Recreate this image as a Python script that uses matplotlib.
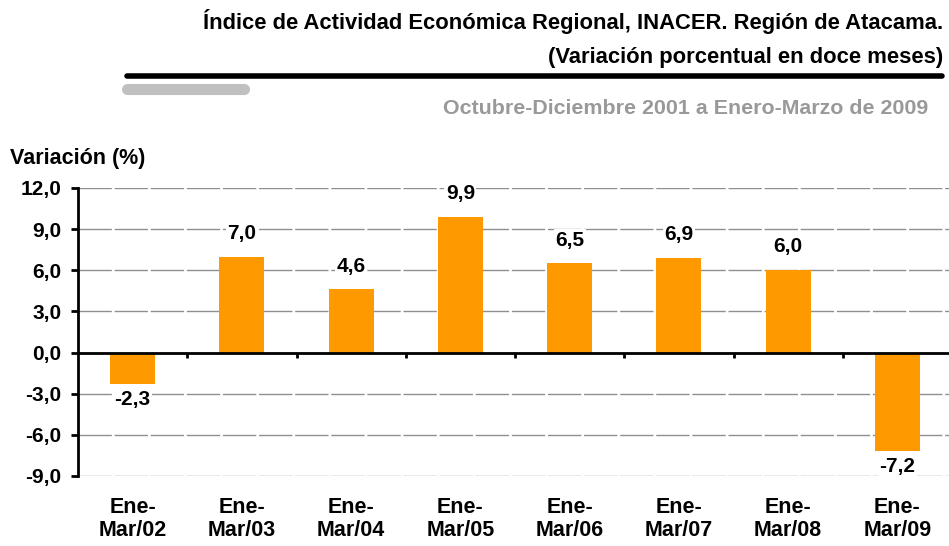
import matplotlib.pyplot as plt
from matplotlib.lines import Line2D
from matplotlib import font_manager

# Datos del gráfico
periodos = ["Ene-\nMar/02", "Ene-\nMar/03", "Ene-\nMar/04", "Ene-\nMar/05",
            "Ene-\nMar/06", "Ene-\nMar/07", "Ene-\nMar/08", "Ene-\nMar/09"]
variacion = [-2.3, 7.0, 4.6, 9.9, 6.5, 6.9, 6.0, -7.2]
ticks_y = [-9, -6, -3, 0, 3, 6, 9, 12]

titulo1 = "Índice de Actividad Económica Regional, INACER. Región de Atacama."
titulo2 = "(Variación porcentual en doce meses)"
subtitulo = "Octubre-Diciembre 2001 a Enero-Marzo de 2009"


def primera_fuente(candidatas):
    # Devuelve la primera familia instalada de la lista
    for fam in candidatas:
        try:
            font_manager.findfont(font_manager.FontProperties(family=fam),
                                  fallback_to_default=False)
            return [fam, 'DejaVu Sans']
        except Exception:
            continue
    return ['DejaVu Sans']


NARROW = primera_fuente(['Liberation Sans Narrow', 'Arial Narrow', 'Liberation Sans'])
SANS = primera_fuente(['Liberation Sans', 'Arial'])
NARANJA = '#FF9900'

fig = plt.figure(figsize=(9.49, 5.46), dpi=100)
W, H = 949, 546


def fx(px):
    return px / W


def fy(py):
    return 1 - py / H


# Encabezado
fig.text(fx(943), fy(21), titulo1, ha='right', va='center', fontsize=15.8,
         fontweight='bold', family=NARROW, color='black')
fig.text(fx(943), fy(58), titulo2, ha='right', va='center', fontsize=15.8,
         fontweight='bold', family=NARROW, color='black')
fig.add_artist(Line2D([fx(127), fx(942)], [fy(76), fy(76)], color='black',
                      lw=4, solid_capstyle='round', transform=fig.transFigure))
fig.add_artist(Line2D([fx(127), fx(244)], [fy(89), fy(89)], color='#C0C0C0',
                      lw=8, solid_capstyle='round', transform=fig.transFigure))
fig.text(fx(928), fy(108), subtitulo, ha='right', va='center', fontsize=15.4,
         fontweight='bold', family=NARROW, color='#999999')
fig.text(fx(10), fy(158), "Variación (%)", ha='left', va='center', fontsize=15.5,
         fontweight='bold', family=SANS)

# Ejes
ax = fig.add_axes([fx(78), fy(476), fx(952) - fx(78), fy(188) - fy(476)])
x = list(range(len(variacion)))
ax.set_axisbelow(True)
ax.bar(x, variacion, width=0.41, color=NARANJA, zorder=2)
ax.set_xlim(-0.5, len(variacion) - 0.5)
ax.set_ylim(-9, 12)
ax.set_yticks(ticks_y)
ax.set_yticklabels([f"{v:.1f}".replace('.', ',') for v in ticks_y],
                   fontsize=15, fontweight='bold', family=SANS)
ax.yaxis.grid(True, color='#8F8F8F', lw=1, linestyle=(0, (24, 2)))
ax.tick_params(axis='y', length=5, width=2, pad=7)

for s in ['top', 'right', 'bottom']:
    ax.spines[s].set_visible(False)
ax.spines['left'].set_linewidth(2)
ax.axhline(0, color='black', lw=2, zorder=3)

# Marcas en la línea del cero, entre categorías
for b in range(1, len(variacion)):
    ax.plot([b - 0.5, b - 0.5], [0, -0.4], color='black', lw=2, zorder=3,
            solid_capstyle='butt')

ax.set_xticks(x)
ax.set_xticklabels(periodos, fontsize=15.5, fontweight='bold', family=SANS,
                   linespacing=1.15)
ax.tick_params(axis='x', length=0, pad=15)

# Etiquetas de valores
for xi, v in zip(x, variacion):
    txt = f"{v:.1f}".replace('.', ',')
    if v >= 0:
        ax.annotate(txt, (xi, v), xytext=(0, 10), textcoords='offset points',
                    ha='center', va='bottom', fontsize=15, fontweight='bold',
                    family=SANS, zorder=4,
                    bbox=dict(facecolor='white', edgecolor='none', pad=1))
    else:
        ax.annotate(txt, (xi, v), xytext=(0, -4), textcoords='offset points',
                    ha='center', va='top', fontsize=15, fontweight='bold',
                    family=SANS, zorder=4,
                    bbox=dict(facecolor='white', edgecolor='none', pad=1))

fig.savefig("out.png", dpi=100)
